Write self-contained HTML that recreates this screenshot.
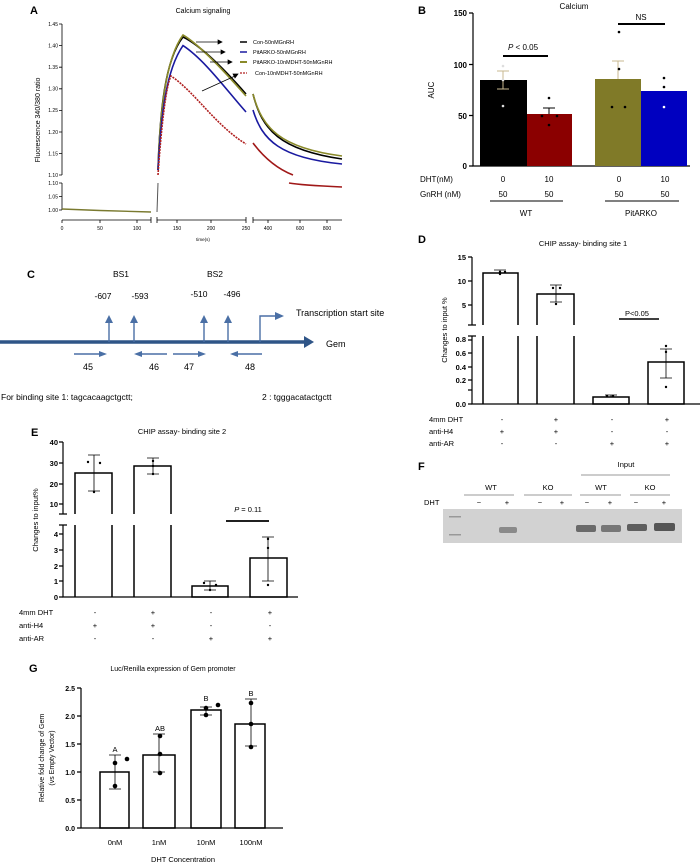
<!DOCTYPE html>
<html><head><meta charset="utf-8"><style>
body{margin:0;background:#fff}
svg{display:block;font-family:"Liberation Sans",Arial,sans-serif}
</style></head><body>
<svg width="700" height="863" viewBox="0 0 700 863" xmlns="http://www.w3.org/2000/svg">
<!-- ===== Panel A ===== -->
<text x="30" y="14" font-size="11" font-weight="bold">A</text>
<text x="203" y="13" font-size="7" text-anchor="middle">Calcium signaling</text>
<g stroke="#000" stroke-width="0.8" fill="none">
<path d="M62 24V175M62 183V210"/>
<path d="M59 24h3M59 45.6h3M59 67.2h3M59 88.8h3M59 110.4h3M59 132h3M59 153.6h3M59 175h3M59 183h3M59 196.5h3M59 210h3"/>
<path d="M62 220H151M157 220H246M253 220H342"/>
<path d="M62 220v3M100 220v3M137 220v3M151 217v6M157 217v6M177 220v3M211 220v3M246 217v6M253 217v6M268 220v3M300 220v3M327 220v3"/>
</g>
<g font-size="5" text-anchor="end">
<text x="58" y="26">1.45</text><text x="58" y="47.5">1.40</text><text x="58" y="69">1.35</text><text x="58" y="90.5">1.30</text><text x="58" y="112">1.25</text><text x="58" y="134">1.20</text><text x="58" y="155.5">1.15</text><text x="58" y="177">1.10</text><text x="58" y="185">1.10</text><text x="58" y="198.5">1.05</text><text x="58" y="212">1.00</text>
</g>
<g font-size="5" text-anchor="middle">
<text x="62" y="230">0</text><text x="100" y="230">50</text><text x="137" y="230">100</text><text x="177" y="230">150</text><text x="211" y="230">200</text><text x="246" y="230">250</text><text x="268" y="230">400</text><text x="300" y="230">600</text><text x="327" y="230">800</text>
<text x="203" y="241" font-size="4.5">time(s)</text>
</g>
<text transform="translate(40,120) rotate(-90)" font-size="7" text-anchor="middle">Fluorescence 340/380 ratio</text>
<path d="M62 209 L100 210.5 L151 212" stroke="#7a7a30" stroke-width="1.4" fill="none"/>
<path d="M157 212 L158 183" stroke="#555" stroke-width="1" fill="none"/>
<g fill="none" stroke-width="1.6">
<path d="M158 170 C160 110 165 60 183 37 C200 45 225 70 246 94" stroke="#000"/>
<path d="M158 170 C160 110 166 58 183 35 C200 45 225 72 246 96" stroke="#8a8a2a"/>
<path d="M158 170 C161 115 166 70 183 45.6 C205 60 228 92 246 112" stroke="#1a1aa0"/>
<path d="M158 175 C161 130 166 85 171 76 C195 92 215 125 246 144" stroke="#b02020" stroke-dasharray="2 1"/>
<path d="M253 94 C262 130 280 150 342 159" stroke="#000"/>
<path d="M253 94 C262 128 280 148 342 156" stroke="#8a8a2a"/>
<path d="M253 110 C262 140 280 158 342 164" stroke="#1a1aa0"/>
<path d="M253 143 C262 155 275 168 293 175" stroke="#a01818"/>
<path d="M289 183 C300 185 320 186 342 187" stroke="#a01818"/>
</g>
<g stroke="#000" stroke-width="0.7" fill="#000">
<path d="M196 42h22" /><path d="M218 40l4 2l-4 2z"/>
<path d="M196 52h25" /><path d="M221 50l4 2l-4 2z"/>
<path d="M210 62h18" /><path d="M228 60l4 2l-4 2z"/>
<path d="M202 91L235 76"/><path d="M233 74l5 0l-3 4z"/>
</g>
<path d="M240 42h7" stroke="#000" stroke-width="1.5"/>
<path d="M240 52h7" stroke="#1a1aa0" stroke-width="1.5"/>
<path d="M240 62h7" stroke="#8a8a2a" stroke-width="2"/>
<path d="M240 73h7" stroke="#b02020" stroke-width="1.2" stroke-dasharray="2 1"/>
<g font-size="5.5"><text x="253" y="44">Con-50nMGnRH</text><text x="253" y="54">PitARKO-50nMGnRH</text><text x="253" y="64">PitARKO-10nMDHT-50nMGnRH</text><text x="255" y="75">Con-10nMDHT-50nMGnRH</text></g>

<!-- ===== Panel B ===== -->
<text x="418" y="14" font-size="11" font-weight="bold">B</text>
<text x="574" y="9" font-size="8" text-anchor="middle">Calcium</text>
<g fill="none" stroke="#000" stroke-width="1.2"><path d="M473 13V166H690"/><path d="M469 13h4M469 64.5h4M469 115.5h4M469 166h4"/></g>
<g font-size="8" font-weight="bold" text-anchor="end"><text x="467" y="16">150</text><text x="467" y="68">100</text><text x="467" y="119">50</text><text x="467" y="169">0</text></g>
<text transform="translate(434,90) rotate(-90)" font-size="8" text-anchor="middle">AUC</text>
<rect x="480" y="80" width="47" height="86" fill="#000"/>
<rect x="527" y="114" width="45" height="52" fill="#8b0000"/>
<rect x="595" y="79" width="46" height="87" fill="#807a28"/>
<rect x="641" y="91" width="46" height="75" fill="#0000c0"/>
<g stroke-width="1" fill="none">
<path d="M503 80V71M497 71h12M503 80v9M497 89h12" stroke="#c8b890"/>
<path d="M549 114v-6M543 108h12" stroke="#000"/>
<path d="M618 79V61M612 61h12" stroke="#c8b890"/>
<path d="M664 91v-6M658 85h12" stroke="#fff"/>
</g>
<g fill="#ddd"><circle cx="503" cy="66" r="1.3"/><circle cx="503" cy="80" r="1.3"/><circle cx="503" cy="106" r="1.3"/></g>
<g fill="#000"><circle cx="549" cy="98" r="1.3"/><circle cx="542" cy="116" r="1.3"/><circle cx="557" cy="116" r="1.3"/><circle cx="549" cy="125" r="1.3"/>
<circle cx="619" cy="32" r="1.3"/><circle cx="619" cy="69" r="1.3"/><circle cx="612" cy="107" r="1.3"/><circle cx="625" cy="107" r="1.3"/><circle cx="664" cy="78" r="1.3"/><circle cx="664" cy="87" r="1.3"/></g>
<g fill="#fff"><circle cx="664" cy="107" r="1.3"/></g>
<path d="M503 56H548M618 24H665" stroke="#000" stroke-width="2"/>
<text x="523" y="50" font-size="8" text-anchor="middle"><tspan font-style="italic">P</tspan> &lt; 0.05</text>
<text x="641" y="20" font-size="8" text-anchor="middle">NS</text>
<g font-size="8" text-anchor="middle"><text x="503" y="182">0</text><text x="549" y="182">10</text><text x="619" y="182">0</text><text x="665" y="182">10</text>
<text x="503" y="197">50</text><text x="549" y="197">50</text><text x="619" y="197">50</text><text x="665" y="197">50</text>
<text x="526" y="216">WT</text><text x="641" y="216">PitARKO</text></g>
<g font-size="8"><text x="420" y="182">DHT(nM)</text><text x="420" y="197">GnRH (nM)</text></g>
<path d="M490 201H563M605 201H679" stroke="#000" stroke-width="1"/>

<!-- ===== Panel C ===== -->
<text x="27" y="278" font-size="11" font-weight="bold">C</text>
<g font-size="8.5" text-anchor="middle"><text x="121" y="277">BS1</text><text x="215" y="277">BS2</text>
<text x="103" y="299">-607</text><text x="140" y="299">-593</text><text x="199" y="297">-510</text><text x="232" y="297">-496</text></g>
<path d="M0 342H305" stroke="#2f5587" stroke-width="3.5"/><path d="M304 336L314 342L304 348z" fill="#2f5587"/>
<g stroke="#4a6fa5" stroke-width="1.4" fill="none"><path d="M109 342V322M134 342V322M204 342V322M228 342V322M260 342V316H276"/>
<path d="M74 354H100M140 354H167M173 354H199M236 354H262"/></g>
<g fill="#4a6fa5"><path d="M105 323L109 315L113 323z"/><path d="M130 323L134 315L138 323z"/><path d="M200 323L204 315L208 323z"/><path d="M224 323L228 315L232 323z"/><path d="M275 312L284 316L275 320z"/>
<path d="M99 351L107 354L99 357z"/><path d="M142 351L134 354L142 357z"/><path d="M198 351L206 354L198 357z"/><path d="M238 351L230 354L238 357z"/></g>
<g font-size="9" text-anchor="middle"><text x="88" y="370">45</text><text x="154" y="370">46</text><text x="189" y="370">47</text><text x="250" y="370">48</text></g>
<text x="296" y="316" font-size="9">Transcription start site</text>
<text x="326" y="347" font-size="9">Gem</text>
<text x="1" y="400" font-size="8.5">For binding site 1: tagcacaagctgctt;</text>
<text x="262" y="400" font-size="8.5">2 : tgggacatactgctt</text>

<!-- ===== Panel D ===== -->
<text x="418" y="243" font-size="11" font-weight="bold">D</text>
<text x="583" y="246" font-size="7.5" text-anchor="middle">CHIP assay- binding site 1</text>
<g fill="none" stroke="#000" stroke-width="1.2"><path d="M472 257V325M472 336V404H700"/><path d="M468 257h4M468 281h4M468 305h4M468 325h8M468 336h8M468 340h4M468 353h4M468 367h4M468 380h4M468 390h4M468 404h4"/></g>
<g font-size="7.5" font-weight="bold" text-anchor="end"><text x="466" y="260">15</text><text x="466" y="284">10</text><text x="466" y="308">5</text><text x="466" y="342">0.8</text><text x="466" y="356">0.6</text><text x="466" y="370">0.4</text><text x="466" y="383">0.2</text><text x="466" y="407">0.0</text></g>
<text transform="translate(447,330) rotate(-90)" font-size="7.5" text-anchor="middle">Changes to input %</text>
<g fill="none" stroke="#000" stroke-width="1.5">
<path d="M483 404V273H518V404"/>
<path d="M537 404V294H574V404"/>
<rect x="593" y="397" width="36" height="7"/>
<rect x="648" y="362" width="36" height="42"/>
</g>
<rect x="480" y="325" width="100" height="11" fill="#fff"/>
<g fill="none" stroke="#000" stroke-width="0.8"><path d="M500 273v-3M494 270h12M556 294v-9M550 285h12M556 294v8M550 302h12M611 397v-2M605 395h12M666 362v-13M660 349h12M666 362v16M660 378h12"/></g>
<g fill="#000"><circle cx="500" cy="272" r="1.2"/><circle cx="505" cy="272" r="1.2"/><circle cx="500" cy="274" r="1.2"/><circle cx="553" cy="288" r="1.2"/><circle cx="560" cy="288" r="1.2"/><circle cx="556" cy="304" r="1.2"/><circle cx="607" cy="396" r="1.2"/><circle cx="613" cy="396" r="1.2"/><circle cx="666" cy="346" r="1.2"/><circle cx="666" cy="352" r="1.2"/><circle cx="666" cy="387" r="1.2"/></g>
<path d="M619 319H659" stroke="#000" stroke-width="1.5"/>
<text x="637" y="316" font-size="7.5" text-anchor="middle">P&lt;0.05</text>
<g font-size="7.5"><text x="429" y="422">4mm DHT</text><text x="429" y="434">anti-H4</text><text x="429" y="446">anti-AR</text></g>
<g font-size="7.5" text-anchor="middle"><text x="502" y="422">-</text><text x="556" y="422">+</text><text x="612" y="422">-</text><text x="667" y="422">+</text>
<text x="502" y="434">+</text><text x="556" y="434">+</text><text x="612" y="434">-</text><text x="667" y="434">-</text>
<text x="502" y="446">-</text><text x="556" y="446">-</text><text x="612" y="446">+</text><text x="667" y="446">+</text></g>

<!-- ===== Panel F ===== -->
<text x="418" y="470" font-size="11" font-weight="bold">F</text>
<g font-size="7.5" text-anchor="middle"><text x="626" y="467">Input</text><text x="491" y="490">WT</text><text x="548" y="490">KO</text><text x="601" y="490">WT</text><text x="650" y="490">KO</text></g>
<g stroke="#777" stroke-width="0.7"><path d="M581 475H670M464 495H514M524 495H572M580 495H621M630 495H670"/></g>
<text x="424" y="505" font-size="7.5">DHT</text>
<g font-size="7.5" text-anchor="middle"><text x="479" y="505">−</text><text x="507" y="505">+</text><text x="540" y="505">−</text><text x="562" y="505">+</text><text x="587" y="505">−</text><text x="610" y="505">+</text><text x="636" y="505">−</text><text x="664" y="505">+</text></g>
<rect x="443" y="509" width="239" height="34" fill="#d2d2d2"/>
<g fill="#6a6a6a"><rect x="449" y="516" width="12" height="1.5" fill="#999"/><rect x="449" y="534" width="12" height="1.5" fill="#999"/>
<rect x="499" y="527" width="18" height="6" rx="2" fill="#8a8a8a"/>
<rect x="576" y="525" width="20" height="7" rx="2"/><rect x="601" y="525" width="20" height="7" rx="2" fill="#777"/><rect x="627" y="524" width="20" height="7" rx="2" fill="#5e5e5e"/><rect x="654" y="523" width="21" height="8" rx="2" fill="#555"/></g>

<!-- ===== Panel E ===== -->
<text x="31" y="436" font-size="11" font-weight="bold">E</text>
<text x="182" y="434" font-size="7.5" text-anchor="middle">CHIP assay- binding site 2</text>
<g fill="none" stroke="#000" stroke-width="1.2"><path d="M63 442V514M63 525V597H298"/><path d="M59 442h4M59 463h4M59 484h4M59 504h4M59 514h8M59 525h8M59 534h4M59 550h4M59 566h4M59 581h4M59 597h4"/></g>
<g font-size="7.5" font-weight="bold" text-anchor="end"><text x="58" y="445">40</text><text x="58" y="466">30</text><text x="58" y="487">20</text><text x="58" y="507">10</text><text x="58" y="537">4</text><text x="58" y="553">3</text><text x="58" y="569">2</text><text x="58" y="584">1</text><text x="58" y="600">0</text></g>
<text transform="translate(38,520) rotate(-90)" font-size="7.5" text-anchor="middle">Changes to input%</text>
<g fill="none" stroke="#000" stroke-width="1.5">
<path d="M75 597V473H112V597"/><path d="M134 597V466H171V597"/>
<rect x="192" y="586" width="36" height="11"/><rect x="250" y="558" width="37" height="39"/>
</g>
<rect x="70" y="514" width="110" height="11" fill="#fff"/>
<g fill="none" stroke="#000" stroke-width="0.8"><path d="M94 473v-18M88 455h12M94 473v18M88 491h12M153 466v-8M147 458h12M153 466v8M147 474h12M210 586v-5M204 581h12M210 586v4M204 590h12M268 558v-21M262 537h12M268 558v23M262 581h12"/></g>
<g fill="#000"><circle cx="88" cy="462" r="1.2"/><circle cx="100" cy="463" r="1.2"/><circle cx="94" cy="492" r="1.2"/><circle cx="153" cy="461" r="1.2"/><circle cx="153" cy="466" r="1.2"/><circle cx="153" cy="474" r="1.2"/><circle cx="204" cy="583" r="1.2"/><circle cx="216" cy="585" r="1.2"/><circle cx="210" cy="590" r="1.2"/><circle cx="268" cy="539" r="1.2"/><circle cx="268" cy="548" r="1.2"/><circle cx="268" cy="585" r="1.2"/></g>
<path d="M226 521H269" stroke="#000" stroke-width="1.8"/>
<text x="248" y="512" font-size="7.5" text-anchor="middle"><tspan font-style="italic">P</tspan> = 0.11</text>
<g font-size="7.5"><text x="19" y="615">4mm DHT</text><text x="19" y="628">anti-H4</text><text x="19" y="641">anti-AR</text></g>
<g font-size="7.5" text-anchor="middle"><text x="95" y="615">-</text><text x="153" y="615">+</text><text x="211" y="615">-</text><text x="270" y="615">+</text>
<text x="95" y="628">+</text><text x="153" y="628">+</text><text x="211" y="628">-</text><text x="270" y="628">-</text>
<text x="95" y="641">-</text><text x="153" y="641">-</text><text x="211" y="641">+</text><text x="270" y="641">+</text></g>

<!-- ===== Panel G ===== -->
<text x="29" y="672" font-size="11" font-weight="bold">G</text>
<text x="173" y="671" font-size="7" text-anchor="middle">Luc/Renilla expression of Gem promoter</text>
<g fill="none" stroke="#000" stroke-width="1.2"><path d="M81 688V828H283"/><path d="M77 688h4M77 716h4M77 744h4M77 772h4M77 800h4M77 828h4"/></g>
<g font-size="7" font-weight="bold" text-anchor="end"><text x="75" y="691">2.5</text><text x="75" y="719">2.0</text><text x="75" y="747">1.5</text><text x="75" y="775">1.0</text><text x="75" y="803">0.5</text><text x="75" y="831">0.0</text></g>
<text transform="translate(44,758) rotate(-90)" font-size="7" text-anchor="middle">Relative fold change of Gem</text>
<text transform="translate(54,758) rotate(-90)" font-size="7" text-anchor="middle">(vs Empty Vector)</text>
<g fill="none" stroke="#000" stroke-width="1.5"><rect x="100" y="772" width="29" height="56"/><rect x="143" y="755" width="32" height="73"/><rect x="191" y="710" width="30" height="118"/><rect x="235" y="724" width="30" height="104"/></g>
<g fill="none" stroke="#000" stroke-width="0.8"><path d="M115 772v-17M109 755h12M115 772v17M109 789h12M159 755v-21M153 734h12M159 755v17M153 772h12M206 710v-3M200 707h12M206 710v5M200 715h12M251 724v-25M245 699h12M251 724v22M245 746h12"/></g>
<g fill="#000"><circle cx="115" cy="763" r="2.3"/><circle cx="127" cy="759" r="2.3"/><circle cx="115" cy="786" r="2.3"/><circle cx="160" cy="736" r="2.3"/><circle cx="160" cy="754" r="2.3"/><circle cx="160" cy="773" r="2.3"/><circle cx="206" cy="708" r="2.3"/><circle cx="218" cy="705" r="2.3"/><circle cx="206" cy="715" r="2.3"/><circle cx="251" cy="703" r="2.3"/><circle cx="251" cy="724" r="2.3"/><circle cx="251" cy="747" r="2.3"/></g>
<g font-size="7.5" text-anchor="middle"><text x="115" y="752">A</text><text x="160" y="731">AB</text><text x="206" y="701">B</text><text x="251" y="696">B</text></g>
<g font-size="7.5" text-anchor="middle"><text x="115" y="845">0nM</text><text x="159" y="845">1nM</text><text x="206" y="845">10nM</text><text x="251" y="845">100nM</text><text x="183" y="862">DHT Concentration</text></g>
</svg>
</body></html>
